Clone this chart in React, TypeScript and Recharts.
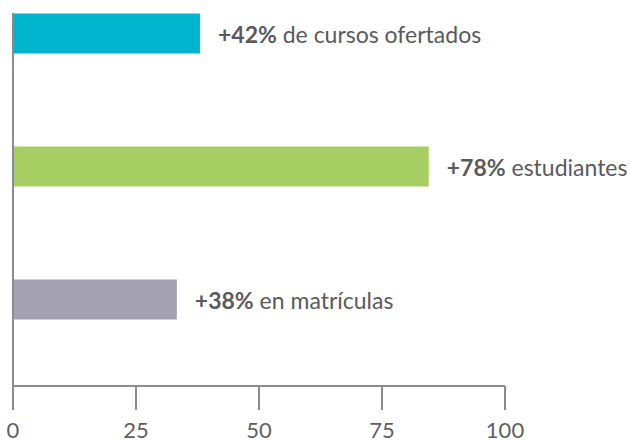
import { BarChart, Bar, XAxis, YAxis, Cell, LabelList } from 'recharts';

const categories = ['cursos', 'estudiantes', 'matriculas'];
const values = [38, 84.5, 33.3];
const pctLabels = ['+42%', '+78%', '+38%'];
const descLabels = ['de cursos ofertados', 'estudiantes', 'en matrículas'];
const colors = ['#00b4ce', '#a6ce62', '#a4a2b2'];
const xTicks = [0, 25, 50, 75, 100];

const data = categories.map((name, i) => ({
  name,
  value: values[i],
  pct: pctLabels[i],
  desc: descLabels[i],
}));

const FONT = 'Lato, "Noto Sans", sans-serif';
const AXIS = '#8c8c8e';

const BarLabel = (props: any) => {
  const { x, y, width, height, index } = props;
  const d = data[index];
  return (
    <text
      x={x + width + 18}
      y={y + height / 2}
      dominantBaseline="central"
      fontFamily={FONT}
      fontSize={23}
      fill="#5a5a5c"
    >
      <tspan fontWeight={700}>{d.pct}</tspan>
      <tspan> {d.desc}</tspan>
    </text>
  );
};

export default function App() {
  return (
    <div>
      <style>{'body{margin:0}'}</style>
      <BarChart
        width={630}
        height={442}
        data={data}
        layout="vertical"
        margin={{ top: 13, right: 125, left: 12, bottom: 0 }}
      >
        <XAxis
          type="number"
          domain={[0, 100]}
          ticks={xTicks}
          height={56}
          tickSize={24}
          tickMargin={12}
          axisLine={{ stroke: AXIS, strokeWidth: 2 }}
          tickLine={{ stroke: AXIS, strokeWidth: 2 }}
          tick={{ fill: '#5f5f61', fontSize: 22, fontFamily: FONT }}
        />
        <YAxis
          type="category"
          dataKey="name"
          width={1}
          tick={false}
          tickLine={false}
          axisLine={{ stroke: AXIS, strokeWidth: 2 }}
          padding={{ top: -46.5, bottom: 20.5 }}
        />
        <Bar dataKey="value" barSize={40} isAnimationActive={false}>
          {data.map((d, i) => (
            <Cell key={d.name} fill={colors[i]} />
          ))}
          <LabelList dataKey="value" content={BarLabel} />
        </Bar>
      </BarChart>
    </div>
  );
}
